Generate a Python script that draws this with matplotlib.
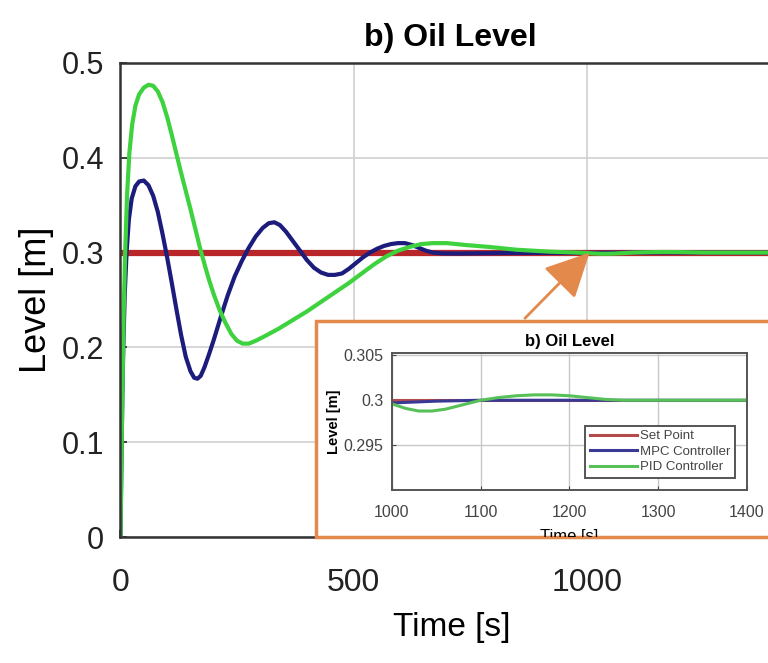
import matplotlib
matplotlib.use("Agg")
import matplotlib.pyplot as plt
from matplotlib.patches import Rectangle
from matplotlib.transforms import Bbox, TransformedBbox

plt.rcParams["font.family"] = ["Liberation Sans", "DejaVu Sans"]

# set point
t_sp = [0, 1400]
level_sp = [0.3, 0.3]

# MPC controller response
t_mpc = [0, 2, 4, 6, 9, 13, 18, 24, 32, 40, 50, 60, 70, 80, 90, 100, 110, 120,
         130, 140, 150, 158, 165, 172, 180, 190, 200, 215, 230, 245, 260, 275,
         290, 305, 318, 330, 342, 355, 370, 385, 400, 415, 430, 445, 460, 475,
         490, 505, 520, 535, 550, 565, 580, 595, 610, 625, 640, 655, 670, 690,
         720, 760, 820, 900, 1000, 1050, 1100, 1200, 1400]
level_mpc = [0.000, 0.080, 0.150, 0.200, 0.255, 0.300, 0.335, 0.357, 0.370,
             0.375, 0.376, 0.371, 0.360, 0.343, 0.320, 0.295, 0.268, 0.240,
             0.213, 0.190, 0.175, 0.168, 0.167, 0.170, 0.179, 0.193, 0.208,
             0.232, 0.255, 0.275, 0.291, 0.305, 0.317, 0.326, 0.331, 0.332,
             0.329, 0.322, 0.312, 0.302, 0.292, 0.284, 0.279, 0.2765, 0.2765,
             0.278, 0.283, 0.289, 0.295, 0.300, 0.304, 0.307, 0.309, 0.310,
             0.310, 0.308, 0.305, 0.302, 0.300, 0.2992, 0.2990, 0.2992, 0.2995,
             0.2997, 0.2997, 0.2999, 0.3000, 0.3000, 0.3000]

# PID controller response
t_pid = [0, 2, 4, 7, 10, 14, 19, 25, 32, 40, 50, 60, 70, 80, 90, 100, 110, 120,
         130, 140, 150, 160, 170, 180, 190, 200, 212, 225, 238, 250, 262, 275,
         290, 310, 340, 370, 400, 430, 460, 490, 520, 545, 570, 595, 620, 645,
         670, 700, 740, 790, 850, 920, 980, 1000, 1015, 1030, 1045, 1060, 1080,
         1100, 1120, 1140, 1160, 1180, 1200, 1220, 1240, 1260, 1300, 1400]
level_pid = [0.000, 0.080, 0.150, 0.240, 0.300, 0.360, 0.405, 0.435, 0.455,
             0.467, 0.474, 0.477, 0.476, 0.470, 0.459, 0.443, 0.424, 0.404,
             0.384, 0.365, 0.346, 0.326, 0.306, 0.288, 0.271, 0.256, 0.240,
             0.226, 0.214, 0.207, 0.204, 0.204, 0.207, 0.212, 0.220, 0.229,
             0.238, 0.248, 0.258, 0.268, 0.279, 0.288, 0.296, 0.302, 0.306,
             0.309, 0.310, 0.310, 0.308, 0.306, 0.303, 0.301, 0.3000, 0.2996,
             0.2991, 0.2988, 0.2988, 0.2990, 0.2995, 0.3000, 0.3003, 0.3005,
             0.3006, 0.3006, 0.3005, 0.3003, 0.3001, 0.3000, 0.3000, 0.3000]

RED = "#b8262a"
BLUE = "#1c1c7c"
GREEN = "#3ed23e"
ORANGE = "#e3894c"

fig = plt.figure(figsize=(7.68, 6.63), dpi=100)

# main axes ----------------------------------------------------------------
ax = fig.add_axes([0.1569, 0.1900, 0.8500, 0.7150])
ax.plot(t_sp, level_sp, color=RED, lw=4.5, solid_capstyle="butt")
ax.plot(t_mpc, level_mpc, color=BLUE, lw=3)
ax.plot(t_pid, level_pid, color=GREEN, lw=3)
ax.set_xlim(0, 1400)
ax.set_ylim(0, 0.5)
ax.set_xticks([0, 500, 1000])
ax.set_yticks([0, 0.1, 0.2, 0.3, 0.4, 0.5])
ax.set_yticklabels(["0", "0.1", "0.2", "0.3", "0.4", "0.5"])
ax.grid(True, color="#cfcfcf", lw=1.2)
ax.set_axisbelow(True)
ax.tick_params(direction="in", length=5, width=1.2, colors="#222222")
ax.tick_params(axis="y", labelsize=22, pad=12)
ax.tick_params(axis="x", labelsize=23, pad=22)
for s in ax.spines.values():
    s.set_color("#333333")
    s.set_linewidth(1.8)
ax.set_title("b) Oil Level", fontsize=23, fontweight="bold", pad=12, x=0.505)
ax.set_xlabel("Time [s]", fontsize=24)
ax.set_ylabel("Level [m]", fontsize=26)
ax.xaxis.set_label_coords(0.508, -0.158)
ax.yaxis.set_label_coords(-0.102, 0.5)

ax.annotate("", xy=(1010, 0.302), xytext=(0.681, 0.517),
            textcoords="figure fraction", annotation_clip=False,
            arrowprops=dict(arrowstyle="-|>,head_length=1.1,head_width=0.55",
                            color=ORANGE, lw=2, mutation_scale=25))

# inset frame ----------------------------------------------------------------
box = [0.4115, 0.1900, 0.62, 0.3260]
frame = Rectangle((box[0], box[1]), box[2], box[3], transform=fig.transFigure,
                  facecolor="white", edgecolor=ORANGE, lw=2.5, zorder=1)
fig.add_artist(frame)

# inset axes -----------------------------------------------------------------
axi = fig.add_axes([0.5104, 0.2610, 0.4622, 0.2070])
axi.set_zorder(2)
axi.plot(t_sp, level_sp, color="#b54a4a", lw=2.2)
axi.plot(t_mpc, level_mpc, color="#3a3a96", lw=2.2)
axi.plot(t_pid, level_pid, color="#58c058", lw=2.2)
axi.set_xlim(1000, 1400)
axi.set_ylim(0.29, 0.3053)
axi.set_xticks([1000, 1100, 1200, 1300, 1400])
axi.set_yticks([0.295, 0.3, 0.305])
axi.set_yticklabels(["0.295", "0.3", "0.305"])
axi.grid(True, color="#c8c8c8", lw=1.0)
axi.tick_params(direction="in", length=3, labelsize=11.5, colors="#444444",
                pad=6)
axi.tick_params(axis="x", pad=11)
for s in axi.spines.values():
    s.set_color("#555555")
    s.set_linewidth(1.4)
axi.set_title("b) Oil Level", fontsize=12, fontweight="bold", pad=5)
axi.set_ylabel("Level [m]", fontsize=10.5, fontweight="bold", labelpad=2)
xl = axi.set_xlabel("Time [s]", fontsize=12, labelpad=6.5)
xl.set_clip_box(TransformedBbox(Bbox.from_bounds(*box), fig.transFigure))
xl.set_clip_on(True)

leg = axi.legend(["Set Point", "MPC Controller", "PID Controller"],
                 loc="lower right", fontsize=9.5, handlelength=3.6,
                 labelspacing=0.25, borderpad=0.35, handletextpad=0.2,
                 fancybox=False, framealpha=1, borderaxespad=0.9)
leg.get_frame().set_edgecolor("#555555")
leg.get_frame().set_linewidth(1.4)
for txt in leg.get_texts():
    txt.set_color("#444444")

fig.savefig("out.png", dpi=100)
